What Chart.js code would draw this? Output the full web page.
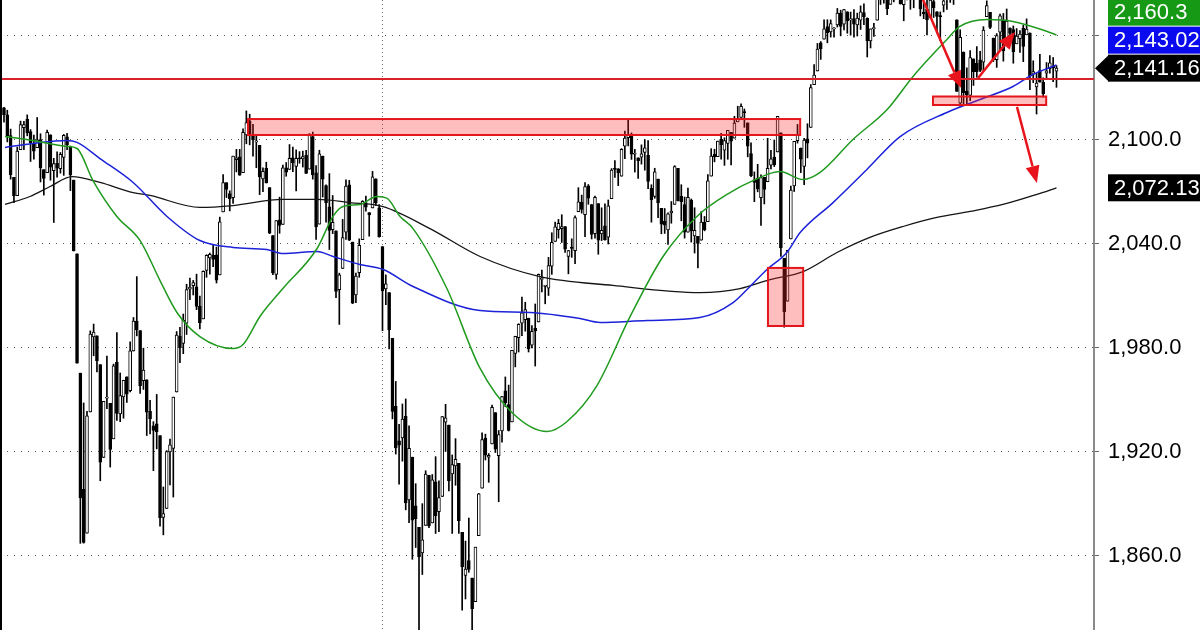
<!DOCTYPE html>
<html>
<head>
<meta charset="utf-8">
<script src="https://cdn.jsdelivr.net/npm/chart.js@4.4.0/dist/chart.umd.min.js"></script>
<style>
  html, body { margin: 0; padding: 0; background: #fff; }
  canvas { display: block; }
</style>
</head>
<body>
<canvas id="myChart" width="1200" height="630"></canvas>
<script>

//*************** daily bars, 22 Jul 2015 .. 21 Oct 2016 (one row per month) ***************

var opens = [
  2118.2, 2114.2, 2102.2, 2078.2, 2067.6, 2094.1, 2106.8, 2111.6,
  2104.5, 2097.7, 2095.3, 2100.0, 2082.6, 2080.9, 2102.7, 2082.0, 2086.2, 2083.2, 2089.7, 2101.5, 2095.7, 2076.6, 2034.1, 1965.2, 1898.1, 1872.8, 1942.8, 1986.1, 1986.7,
  1970.1, 1916.5, 1950.8, 1947.8, 1927.3, 1971.5, 1941.6, 1951.5, 1963.1, 1955.1, 1978.0, 1995.3, 1989.7, 1960.8, 1961.4, 1943.2, 1934.8, 1935.9, 1929.2, 1881.9, 1887.1,
  1919.7, 1921.8, 1954.3, 1986.6, 1982.3, 1994.0, 2013.7, 2015.7, 2015.0, 2003.7, 1996.5, 2024.4, 2031.7, 2033.1, 2033.5, 2021.9, 2058.2, 2075.1, 2068.8, 2066.5, 2088.4, 2090.0,
  2080.8, 2102.6, 2110.6, 2101.9, 2098.6, 2096.6, 2077.2, 2083.4, 2072.3, 2044.6, 2022.1, 2053.7, 2051.0, 2083.7, 2082.8, 2089.4, 2084.4, 2089.3, 2088.8, 2090.9,
  2082.9, 2101.7, 2080.7, 2051.2, 2090.4, 2073.4, 2061.2, 2047.9, 2047.3, 2013.4, 2025.6, 2046.5, 2073.8, 2040.8, 2010.3, 2023.2, 2042.2, 2063.5, 2057.8, 2060.5, 2077.3, 2060.6,
  2038.2, 2013.8, 2011.7, 1985.3, 1946.0, 1926.1, 1927.8, 1940.3, 1892.0, 1916.7, 1888.7, 1876.2, 1861.5, 1877.4, 1906.3, 1878.8, 1902.5, 1885.2, 1894.0,
  1936.9, 1935.3, 1907.1, 1911.7, 1913.1, 1873.3, 1848.5, 1857.1, 1847.0, 1833.4, 1871.4, 1898.8, 1927.6, 1916.7, 1924.4, 1942.4, 1917.6, 1931.9, 1955.0, 1947.1,
  1937.1, 1976.6, 1985.6, 1994.0, 1996.1, 1996.9, 1981.4, 1991.0, 1994.7, 2019.3, 2015.3, 2014.2, 2026.9, 2041.2, 2047.9, 2048.6, 2049.8, 2032.5, 2037.9, 2035.8, 2058.3, 2063.8,
  2056.6, 2073.2, 2062.5, 2045.6, 2063.0, 2045.5, 2050.2, 2043.7, 2065.9, 2082.9, 2083.1, 2078.8, 2096.1, 2101.0, 2102.1, 2091.5, 2089.4, 2089.8, 2092.6, 2090.9, 2071.8,
  2067.2, 2077.2, 2060.3, 2052.9, 2047.8, 2057.6, 2062.6, 2083.3, 2067.2, 2062.5, 2046.5, 2065.0, 2044.4, 2044.2, 2041.9, 2052.2, 2052.6, 2078.9, 2091.4, 2090.1, 2100.1,
  2093.9, 2097.7, 2104.1, 2100.8, 2110.2, 2112.7, 2115.7, 2109.6, 2091.8, 2076.7, 2077.6, 2066.4, 2078.2, 2075.6, 2085.2, 2089.8, 2092.8, 2103.8, 2031.5, 2006.7, 2042.7, 2073.2,
  2099.3, 2095.1, 2084.4, 2100.4, 2107.0, 2131.7, 2139.5, 2155.8, 2157.9, 2165.1, 2162.0, 2163.8, 2166.1, 2172.9, 2166.5, 2173.7, 2169.0, 2169.8, 2166.1, 2168.8,
  2173.2, 2169.9, 2156.8, 2164.0, 2168.8, 2183.8, 2182.2, 2182.8, 2178.0, 2183.7, 2186.1, 2186.2, 2177.8, 2181.9, 2184.2, 2181.6, 2187.8, 2185.1, 2173.3, 2175.1, 2170.2, 2179.5, 2173.6,
  2171.3, 2177.5, 2181.6, 2185.2, 2182.8, 2169.1, 2120.9, 2150.5, 2127.9, 2125.4, 2146.5, 2144.0, 2145.9, 2144.6, 2170.9, 2173.3, 2158.5, 2146.0, 2161.9, 2168.9, 2156.5,
  2164.3, 2163.4, 2155.2, 2158.2, 2164.2, 2160.4, 2161.4, 2137.7, 2130.3, 2139.7, 2133.0, 2138.3, 2140.8, 2142.5, 2139.4
];

var highs = [
  2118.5, 2116.9, 2106.0, 2078.2, 2095.6, 2110.6, 2110.5, 2114.2,
  2105.7, 2102.5, 2112.7, 2103.3, 2082.6, 2105.4, 2102.7, 2089.1, 2092.9, 2092.5, 2102.9, 2103.5, 2096.2, 2076.6, 2034.1, 1965.2, 1948.0, 1943.1, 1989.6, 1993.5, 1986.7,
  1970.1, 1948.9, 1975.0, 1947.8, 1970.4, 1988.6, 1965.3, 1961.1, 1963.1, 1983.2, 1997.3, 2020.9, 1989.7, 1979.6, 1961.4, 1949.5, 1937.2, 1952.9, 1929.2, 1899.5, 1920.5,
  1927.2, 1951.4, 1989.2, 1991.6, 1999.3, 2016.5, 2020.1, 2018.7, 2022.3, 2009.6, 2024.2, 2033.5, 2034.5, 2039.1, 2037.9, 2055.2, 2079.7, 2075.1, 2070.4, 2090.4, 2094.3, 2094.3,
  2106.2, 2116.5, 2114.6, 2108.8, 2101.9, 2096.6, 2083.7, 2086.9, 2072.3, 2044.6, 2053.2, 2066.7, 2085.3, 2086.7, 2097.1, 2095.6, 2094.1, 2093.0, 2093.3, 2093.8,
  2103.4, 2104.3, 2085.0, 2093.8, 2090.4, 2073.9, 2080.3, 2067.7, 2047.3, 2022.9, 2053.9, 2076.7, 2076.4, 2040.8, 2022.9, 2042.7, 2064.7, 2067.4, 2057.8, 2081.6, 2077.3, 2062.5,
  2038.2, 2021.9, 2011.7, 1985.3, 1960.4, 1935.7, 1947.4, 1950.3, 1934.8, 1916.7, 1901.4, 1876.2, 1889.9, 1908.9, 1906.3, 1906.7, 1917.0, 1903.0, 1940.2,
  1947.2, 1935.3, 1918.0, 1927.4, 1913.1, 1873.3, 1868.3, 1881.6, 1847.0, 1864.8, 1895.8, 1930.7, 1930.0, 1918.8, 1946.7, 1942.4, 1932.1, 1951.8, 1963.0, 1958.3,
  1978.4, 1986.5, 1993.7, 2009.1, 2006.1, 1996.9, 1992.7, 2005.1, 2022.4, 2024.6, 2015.9, 2032.0, 2046.2, 2052.4, 2053.9, 2056.6, 2049.8, 2036.0, 2042.7, 2055.9, 2072.2, 2067.9,
  2075.1, 2074.0, 2062.5, 2067.3, 2063.0, 2060.6, 2062.9, 2065.1, 2083.2, 2087.8, 2083.2, 2094.7, 2104.9, 2111.1, 2103.8, 2094.3, 2089.4, 2096.9, 2099.9, 2099.3, 2073.9,
  2083.4, 2077.2, 2060.3, 2060.2, 2057.7, 2064.2, 2084.9, 2083.3, 2073.9, 2066.8, 2071.9, 2065.7, 2060.6, 2044.2, 2058.4, 2055.6, 2079.7, 2094.7, 2094.4, 2099.1, 2103.5,
  2101.0, 2105.3, 2104.1, 2113.4, 2119.2, 2120.6, 2117.6, 2109.6, 2098.1, 2081.3, 2085.7, 2079.6, 2078.2, 2100.7, 2093.7, 2099.7, 2113.3, 2103.8, 2031.5, 2036.1, 2073.1, 2098.9,
  2108.7, 2095.1, 2100.7, 2109.1, 2131.7, 2143.2, 2155.4, 2156.5, 2169.1, 2169.1, 2169.0, 2164.6, 2175.6, 2174.6, 2175.1, 2173.7, 2173.5, 2175.0, 2172.9, 2177.1,
  2178.3, 2170.2, 2163.8, 2167.0, 2182.9, 2185.4, 2187.7, 2183.4, 2188.5, 2186.3, 2193.8, 2186.2, 2183.1, 2187.0, 2185.0, 2185.2, 2193.4, 2186.7, 2179.0, 2187.9, 2183.5, 2182.3, 2173.8,
  2173.6, 2184.9, 2186.6, 2187.9, 2185.4, 2169.1, 2163.3, 2150.5, 2141.3, 2151.3, 2146.5, 2153.6, 2150.8, 2165.1, 2180.0, 2173.3, 2158.5, 2161.1, 2172.4, 2172.7, 2175.3,
  2164.4, 2165.5, 2164.0, 2162.9, 2165.9, 2169.6, 2161.6, 2145.4, 2138.2, 2149.2, 2135.6, 2144.4, 2148.4, 2147.2, 2142.6
];

var lows = [
  2110.0, 2098.6, 2077.1, 2063.5, 2067.6, 2094.1, 2094.1, 2102.1,
  2087.3, 2088.6, 2095.3, 2075.5, 2067.9, 2080.9, 2076.5, 2052.1, 2078.3, 2080.6, 2079.3, 2094.1, 2070.5, 2035.7, 1970.9, 1867.0, 1867.1, 1872.8, 1942.8, 1975.2, 1965.9,
  1903.1, 1916.5, 1944.7, 1911.0, 1927.3, 1937.9, 1937.2, 1939.2, 1948.3, 1954.3, 1977.9, 1986.7, 1953.5, 1955.8, 1929.2, 1930.1, 1908.9, 1921.5, 1876.9, 1871.9, 1887.1,
  1900.7, 1893.7, 1954.3, 1971.2, 1976.4, 1987.5, 2007.6, 2010.3, 2001.8, 1990.7, 1996.5, 2020.5, 2022.3, 2026.6, 2017.2, 2021.9, 2058.2, 2066.5, 2058.8, 2063.1, 2081.3, 2079.3,
  2080.8, 2097.5, 2096.9, 2090.4, 2083.7, 2068.2, 2069.9, 2074.9, 2045.7, 2022.0, 2019.4, 2045.9, 2051.0, 2078.8, 2082.8, 2081.4, 2070.3, 2086.3, 2084.1, 2080.4,
  2082.9, 2077.1, 2042.4, 2051.2, 2066.8, 2052.3, 2036.5, 2045.7, 2008.8, 1993.3, 2025.6, 2042.4, 2041.7, 2005.3, 2005.9, 2020.5, 2042.2, 2058.7, 2044.2, 2060.5, 2061.9, 2043.6,
  1989.7, 2004.7, 1979.1, 1938.8, 1918.5, 1901.1, 1914.4, 1886.3, 1878.9, 1857.8, 1864.6, 1812.3, 1849.0, 1877.4, 1876.0, 1878.8, 1872.7, 1873.7, 1894.0,
  1920.0, 1897.3, 1872.7, 1900.5, 1872.7, 1828.5, 1834.9, 1850.3, 1810.1, 1833.4, 1871.4, 1898.8, 1915.1, 1902.2, 1924.4, 1919.4, 1891.0, 1925.4, 1945.8, 1931.8,
  1937.1, 1968.8, 1977.4, 1986.8, 1989.4, 1977.4, 1979.8, 1969.3, 1994.7, 2012.1, 2005.2, 2010.0, 2022.2, 2041.2, 2043.1, 2040.6, 2034.9, 2022.5, 2032.0, 2028.3, 2058.3, 2057.5,
  2044.0, 2062.6, 2042.6, 2043.1, 2033.8, 2041.7, 2041.9, 2039.7, 2065.9, 2078.1, 2073.4, 2078.8, 2088.9, 2096.3, 2088.5, 2081.2, 2077.5, 2085.8, 2082.3, 2071.6, 2052.3,
  2066.1, 2054.9, 2045.6, 2045.8, 2039.5, 2051.7, 2062.6, 2064.5, 2053.1, 2043.1, 2046.5, 2040.8, 2034.5, 2025.9, 2041.9, 2047.3, 2052.6, 2078.9, 2087.1, 2090.1, 2088.7,
  2085.1, 2088.6, 2085.4, 2100.8, 2110.2, 2112.7, 2107.0, 2090.0, 2078.5, 2064.1, 2069.8, 2050.4, 2062.8, 2075.6, 2083.0, 2084.4, 2092.8, 2032.6, 1991.7, 2006.7, 2042.7, 2070.0,
  2097.9, 2080.9, 2074.0, 2089.4, 2107.0, 2131.7, 2139.5, 2146.2, 2157.9, 2155.8, 2159.1, 2159.0, 2164.9, 2159.8, 2163.2, 2161.3, 2160.2, 2159.1, 2159.7, 2163.5,
  2166.2, 2147.6, 2152.8, 2159.5, 2168.8, 2177.9, 2178.6, 2172.0, 2178.0, 2179.4, 2186.1, 2178.1, 2168.5, 2180.5, 2175.1, 2176.0, 2186.8, 2171.3, 2169.7, 2160.4, 2170.2, 2170.4, 2161.4,
  2157.1, 2173.6, 2175.1, 2179.1, 2177.9, 2127.8, 2119.1, 2120.3, 2119.9, 2122.4, 2131.2, 2135.9, 2139.2, 2139.6, 2170.9, 2164.0, 2145.0, 2141.6, 2151.8, 2145.2, 2156.5,
  2154.8, 2144.0, 2155.2, 2150.3, 2144.9, 2160.4, 2128.8, 2132.8, 2114.7, 2133.0, 2124.4, 2135.5, 2138.2, 2133.4, 2130.1
];

var closes = [
  2114.2, 2102.2, 2079.7, 2067.6, 2093.3, 2108.6, 2108.6, 2103.8,
  2098.0, 2093.3, 2099.8, 2083.6, 2077.6, 2104.2, 2084.1, 2086.1, 2083.4, 2091.5, 2102.4, 2096.9, 2079.6, 2035.7, 1970.9, 1893.2, 1867.6, 1940.5, 1987.7, 1988.9, 1972.2,
  1913.9, 1948.9, 1951.1, 1921.2, 1969.4, 1942.0, 1952.3, 1961.1, 1953.0, 1978.1, 1995.3, 1990.2, 1958.0, 1967.0, 1942.7, 1938.8, 1932.2, 1931.3, 1881.8, 1884.1, 1920.0,
  1923.8, 1951.4, 1987.1, 1979.9, 1995.8, 2013.4, 2014.9, 2017.5, 2003.7, 1994.2, 2023.9, 2033.1, 2033.7, 2030.8, 2018.9, 2052.5, 2075.2, 2071.2, 2065.9, 2090.4, 2089.4, 2079.4,
  2104.1, 2109.8, 2102.3, 2099.9, 2099.2, 2078.6, 2081.7, 2075.0, 2046.0, 2023.0, 2053.2, 2050.4, 2083.6, 2081.2, 2089.2, 2086.6, 2089.1, 2088.9, 2090.1, 2080.4,
  2102.6, 2079.5, 2049.6, 2091.7, 2077.1, 2063.6, 2047.6, 2052.2, 2012.4, 2021.9, 2043.4, 2073.1, 2041.9, 2005.6, 2021.2, 2039.0, 2064.3, 2061.0, 2056.5, 2078.4, 2063.4, 2043.9,
  2012.7, 2016.7, 1990.3, 1943.1, 1922.0, 1923.7, 1938.7, 1890.3, 1921.8, 1880.3, 1881.3, 1859.3, 1869.0, 1906.9, 1877.1, 1903.6, 1883.0, 1893.4, 1940.2,
  1939.4, 1903.0, 1912.5, 1915.5, 1880.1, 1853.4, 1852.2, 1851.9, 1829.1, 1864.8, 1895.6, 1926.8, 1917.8, 1917.8, 1945.5, 1921.3, 1929.8, 1951.7, 1948.1, 1932.2,
  1978.4, 1986.5, 1993.4, 2000.0, 2001.8, 1979.3, 1989.3, 1989.6, 2022.2, 2019.6, 2015.9, 2027.2, 2040.6, 2049.6, 2051.6, 2049.8, 2036.7, 2035.9, 2037.1, 2055.0, 2064.0, 2059.7,
  2072.8, 2066.1, 2045.2, 2066.7, 2041.9, 2047.6, 2042.0, 2061.7, 2082.4, 2082.8, 2080.7, 2094.3, 2100.8, 2102.4, 2091.5, 2091.6, 2087.8, 2091.7, 2095.2, 2075.8, 2065.3,
  2081.4, 2063.4, 2051.1, 2050.6, 2057.1, 2058.7, 2084.4, 2064.5, 2064.1, 2046.6, 2066.7, 2047.2, 2047.6, 2040.0, 2052.3, 2048.0, 2076.1, 2090.5, 2090.1, 2099.1, 2097.0,
  2099.3, 2105.3, 2099.1, 2109.4, 2112.1, 2119.1, 2115.5, 2096.1, 2079.1, 2075.3, 2071.5, 2078.0, 2071.2, 2083.3, 2088.9, 2085.5, 2113.3, 2037.4, 2000.5, 2036.1, 2070.8, 2098.9,
  2103.0, 2088.6, 2099.7, 2097.9, 2129.9, 2137.2, 2152.1, 2152.4, 2163.8, 2161.7, 2166.9, 2163.8, 2173.0, 2165.2, 2175.0, 2168.5, 2169.2, 2166.6, 2170.1, 2173.6,
  2170.8, 2157.0, 2163.8, 2164.3, 2182.9, 2180.9, 2181.7, 2175.5, 2185.8, 2184.1, 2190.2, 2178.2, 2182.2, 2187.0, 2183.9, 2182.6, 2186.9, 2175.4, 2172.5, 2169.0, 2180.4, 2176.1, 2171.0,
  2170.9, 2180.0, 2186.5, 2186.2, 2181.3, 2127.8, 2159.0, 2127.0, 2125.8, 2147.3, 2139.2, 2139.1, 2139.8, 2163.1, 2177.2, 2164.7, 2146.1, 2159.9, 2171.4, 2151.1, 2168.3,
  2161.2, 2150.5, 2159.7, 2160.8, 2153.7, 2163.7, 2136.7, 2139.2, 2132.6, 2133.0, 2126.5, 2139.6, 2144.3, 2141.3, 2141.16
];

// first bar of 2016 (dotted year line)
var yearStart = 114;

// moving averages: bar index + value
var ma50Days = [0.3, 8.7, 19, 22, 26.8, 34, 41, 47, 52.1, 59, 69, 72, 77.1, 84, 94.3, 99.1, 102.1, 107.2, 112.3, 115.4, 119.3, 123.2, 133.4, 143.4, 153.3, 163.6, 169.6, 178.6, 188.6, 198.5, 208.7, 218.7, 225.6, 233.7, 240.7, 245.8, 255.7, 266, 273.8, 284, 287.9, 296.1, 303.9, 314.2, 317];
var ma50 = [2101.7, 2099.4, 2096.0, 2094.8, 2076.3, 2055.6, 2041.7, 2018.6, 2000.2, 1986.3, 1979.4, 1981.7, 1997.9, 2014.0, 2037.1, 2055.6, 2061.3, 2062.5, 2067.1, 2066.0, 2055.6, 2048.6, 2014.0, 1967.9, 1941.9, 1931.5, 1937.3, 1958.0, 1997.9, 2032.5, 2055.6, 2069.4, 2076.3, 2081.5, 2076.9, 2081.0, 2100.0, 2117.3, 2136.4, 2157.7, 2165.2, 2169.2, 2168.1, 2162.3, 2160.3];

var ma100Days = [0.3, 8.7, 19, 22, 28.9, 38.9, 49.1, 59, 69, 79.2, 84, 94.3, 99.1, 107.2, 114.2, 123.2, 143.4, 158.4, 173.5, 179.5, 193.7, 209.6, 219.6, 224.7, 229.8, 235.8, 239.8, 249.7, 259.9, 269.9, 284, 294, 303.9, 309.9, 317];
var ma100 = [2095.4, 2097.7, 2099.4, 2098.3, 2089.0, 2075.2, 2055.6, 2041.7, 2037.7, 2036.5, 2034.2, 2035.4, 2032.5, 2027.9, 2025.0, 2015.2, 2001.3, 2000.2, 1996.7, 1994.4, 1995.6, 1997.3, 2005.9, 2015.2, 2025.0, 2034.8, 2046.3, 2063.6, 2082.7, 2101.7, 2115.6, 2123.1, 2130.6, 2137.5, 2143.0];

var ma200Days = [0.3, 7.8, 13.9, 20.5, 28.9, 38.9, 44, 59, 69, 84, 94.3, 104.2, 114.2, 128.3, 143.4, 161.4, 183.4, 209.6, 221.7, 230.7, 240.7, 250.9, 260.8, 270.8, 281, 291, 300.9, 311.1, 317];
var ma200 = [2062.5, 2067.1, 2072.9, 2078.6, 2075.2, 2069.4, 2067.7, 2060.8, 2061.9, 2065.4, 2065.4, 2063.6, 2061.3, 2048.6, 2032.5, 2020.9, 2015.8, 2011.7, 2014.0, 2019.2, 2023.8, 2034.8, 2043.5, 2049.8, 2055.0, 2058.5, 2062.5, 2068.3, 2072.1];

var yTicks = [1860, 1920, 1980, 2040, 2100, 2160];

// drawn by hand on the chart: [from bar, to bar, top, bottom]
var zones = [
  [73.5, 239.8, 2111.8, 2102.6],
  [230.1, 240.7, 2025.9, 1992.4],
  [279.8, 313.9, 2124.8, 2119.9]
];
var levelLine = 2134.9;
// [bar, value] -> [bar, value]
var arrows = [
  [276.5, 2182.0, 288.3, 2129.7],
  [293.4, 2135.5, 304.5, 2162.0],
  [305.1, 2118.8, 311.1, 2074.9]
];

// last values on the price axis
var lastValues = [2160.3, 2143.02, 2141.16, 2072.13];
var lastTexts = ["2,160.3", "2,143.02", "2,141.16", "2,072.13"];
var lastColors = ["#169a16", "#0a0aee", "#000000", "#000000"];


//*************** chart ***************

var bodies = [];
var wicks = [];
var bodyColors = [];
for (var i = 0; i < closes.length; i++) {
  bodies.push({ x: i, y: [opens[i], closes[i]] });
  wicks.push({ x: i, y: [lows[i], highs[i]] });
  bodyColors.push(closes[i] >= opens[i] ? "#ffffff" : "#000000");
}

function pairs(days, vals) {
  return days.map(function(d, k) { return { x: d, y: vals[k] }; });
}

var FONT = '"Liberation Sans", Arial, sans-serif';

var drawings = {
  id: "drawings",
  afterDatasetsDraw: function(chart) {
    var ctx = chart.ctx;
    var xs = chart.scales.x, ys = chart.scales.y, area = chart.chartArea;
    ctx.save();

    // zones
    zones.forEach(function(z) {
      var x1 = xs.getPixelForValue(z[0]), x2 = xs.getPixelForValue(z[1]);
      var y1 = ys.getPixelForValue(z[2]), y2 = ys.getPixelForValue(z[3]);
      ctx.fillStyle = "rgba(255, 40, 40, 0.3)";
      ctx.fillRect(x1, y1, x2 - x1, y2 - y1);
      ctx.strokeStyle = "#e3161c";
      ctx.lineWidth = 2;
      ctx.strokeRect(x1, y1, x2 - x1, y2 - y1);
    });

    // level
    var ly = ys.getPixelForValue(levelLine);
    ctx.strokeStyle = "#d8222a";
    ctx.lineWidth = 2;
    ctx.beginPath();
    ctx.moveTo(area.left, ly);
    ctx.lineTo(area.right, ly);
    ctx.stroke();

    // arrows
    arrows.forEach(function(a) {
      var x1 = xs.getPixelForValue(a[0]), y1 = ys.getPixelForValue(a[1]);
      var x2 = xs.getPixelForValue(a[2]), y2 = ys.getPixelForValue(a[3]);
      var ang = Math.atan2(y2 - y1, x2 - x1);
      var head = 17, half = 7;
      ctx.strokeStyle = "#e8141c";
      ctx.fillStyle = "#e8141c";
      ctx.lineWidth = 2.5;
      ctx.beginPath();
      ctx.moveTo(x1, y1);
      ctx.lineTo(x2 - Math.cos(ang) * head, y2 - Math.sin(ang) * head);
      ctx.stroke();
      ctx.beginPath();
      ctx.moveTo(x2, y2);
      ctx.lineTo(x2 - Math.cos(ang) * head + Math.sin(ang) * half, y2 - Math.sin(ang) * head - Math.cos(ang) * half);
      ctx.lineTo(x2 - Math.cos(ang) * head - Math.sin(ang) * half, y2 - Math.sin(ang) * head + Math.cos(ang) * half);
      ctx.closePath();
      ctx.fill();
    });

    // left frame
    ctx.fillStyle = "#000";
    ctx.fillRect(area.left, area.top, 2, area.bottom - area.top);
    ctx.restore();
  },
  afterDraw: function(chart) {
    var ctx = chart.ctx;
    var ys = chart.scales.y, area = chart.chartArea;
    var h = 27, boxX = area.right + 14;
    var items = lastValues.map(function(v, k) {
      return { y: ys.getPixelForValue(v), text: lastTexts[k], color: lastColors[k], arrow: k == 2 };
    });
    items.sort(function(a, b) { return b.y - a.y; });
    var prev = Infinity;
    ctx.save();
    items.forEach(function(it) {
      var c = Math.min(it.y, prev - h - 1);
      prev = c;
      ctx.fillStyle = it.color;
      ctx.fillRect(boxX, c - h / 2, chart.width - boxX, h);
      if (it.arrow) {
        ctx.beginPath();
        ctx.moveTo(area.right + 1, c);
        ctx.lineTo(boxX + 1, c - h / 2);
        ctx.lineTo(boxX + 1, c + h / 2);
        ctx.closePath();
        ctx.fill();
      }
      ctx.fillStyle = "#fff";
      ctx.font = "22px " + FONT;
      ctx.textBaseline = "middle";
      ctx.fillText(it.text, boxX + 6, c + 1);
    });
    ctx.restore();
  }
};

var chartCtx = document.getElementById("myChart").getContext("2d");
var priceChart = new Chart(chartCtx, {
  type: "bar",
  data: {
    datasets: [
      {
        type: "line", label: "MA 50", data: pairs(ma50Days, ma50),
        borderColor: "#1f9a1f", borderWidth: 1.5, pointRadius: 0,
        cubicInterpolationMode: "monotone", order: 0
      },
      {
        type: "line", label: "MA 100", data: pairs(ma100Days, ma100),
        borderColor: "#1c22d8", borderWidth: 1.5, pointRadius: 0,
        cubicInterpolationMode: "monotone", order: 0
      },
      {
        type: "line", label: "MA 200", data: pairs(ma200Days, ma200),
        borderColor: "#141414", borderWidth: 1.3, pointRadius: 0,
        cubicInterpolationMode: "monotone", order: 0
      },
      {
        label: "body", data: bodies, grouped: false, barThickness: 3, minBarLength: 1,
        backgroundColor: bodyColors, borderColor: "#000", borderWidth: 1, borderSkipped: false,
        order: 1
      },
      {
        label: "wick", data: wicks, grouped: false, barThickness: 1,
        backgroundColor: "#000", borderWidth: 0, order: 2
      }
    ]
  },
  options: {
    responsive: false,
    animation: false,
    devicePixelRatio: 1,
    layout: { padding: 0 },
    plugins: { legend: { display: false }, tooltip: { enabled: false } },
    scales: {
      x: {
        type: "linear", min: -1.2, max: 328.3, offset: false,
        grid: { offset: false, color: "#666", drawTicks: false },
        border: { display: false, dash: [1, 3] },
        ticks: { display: false },
        afterBuildTicks: function(axis) { axis.ticks = [{ value: yearStart }]; },
        afterFit: function(axis) {
          axis.height = 0;
          axis.paddingLeft = 0; axis.paddingRight = 0;
        }
      },
      y: {
        position: "right", min: 1817.0, max: 2180.48,
        grid: { color: "#555", tickLength: 5, tickColor: "#666", tickBorderDash: [] },
        border: { display: true, color: "#8a8a8a", width: 2, dash: [1, 6] },
        ticks: {
          color: "#000", padding: 9,
          font: { family: FONT, size: 22 },
          callback: function(v) {
            return v.toLocaleString("en-US", { minimumFractionDigits: 1, maximumFractionDigits: 1 });
          }
        },
        afterBuildTicks: function(axis) { axis.ticks = yTicks.map(function(v) { return { value: v }; }); },
        afterFit: function(axis) {
          axis.width = 106;
          axis.paddingTop = 0; axis.paddingBottom = 0;
        }
      }
    }
  },
  plugins: [drawings]
});

</script>
</body>
</html>
